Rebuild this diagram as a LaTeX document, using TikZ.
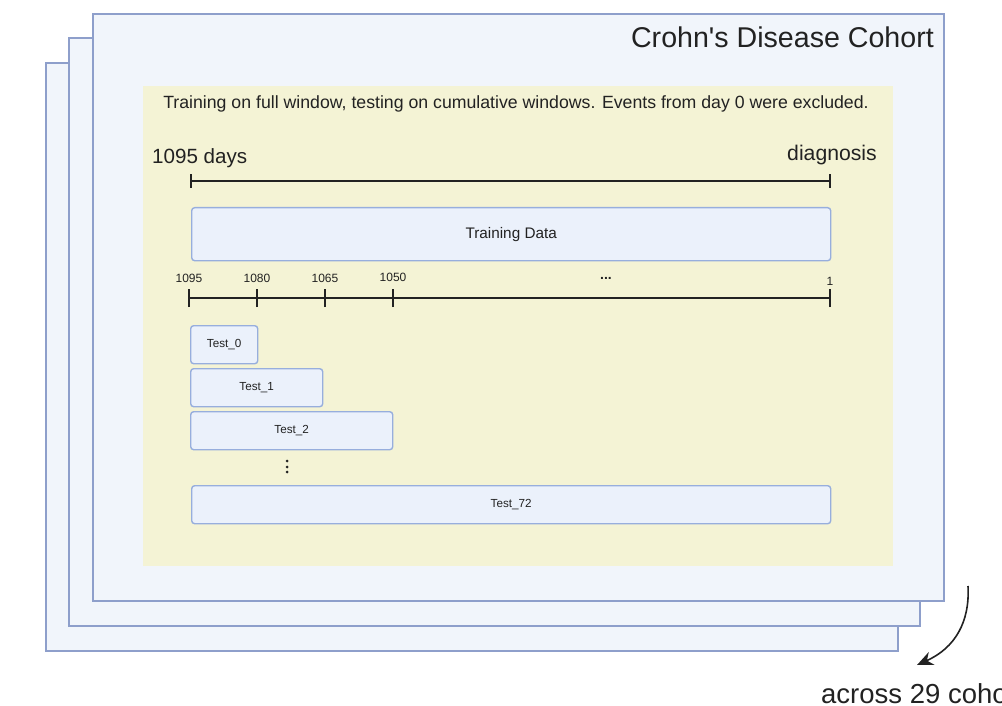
\documentclass[tikz,border=0pt]{standalone}
\usepackage{fontspec}
\setmainfont{Liberation Sans}
\usetikzlibrary{arrows.meta}
\definecolor{cardfill}{HTML}{F1F5FB}
\definecolor{cardline}{HTML}{8E9FCB}
\definecolor{panel}{HTML}{F4F3D5}
\definecolor{boxfill}{HTML}{EBF1FB}
\definecolor{boxline}{HTML}{97AEDD}
\definecolor{ink}{HTML}{222222}
\tikzset{
  card/.style={draw=cardline, fill=cardfill, line width=1.4pt},
  winbox/.style={draw=boxline, fill=boxfill, line width=1.4pt, rounded corners=3pt, inner sep=0pt, anchor=north west, text=ink},
  tline/.style={draw=ink, line width=1.5pt},
  tlabel/.style={text=ink, inner sep=0pt, font=\fontsize{12}{14}\selectfont},
  testtxt/.style={font=\fontsize{11.7}{13}\selectfont},
  dot/.style={fill=ink, draw=none},
}
\begin{document}
\begin{tikzpicture}[x=1pt,y=-1pt]
\useasboundingbox (0,0) rectangle (1002,706);
\clip (0,0) rectangle (1002,706);
% stacked cards
\draw[card] (46,63) rectangle (898,651);
\draw[card] (69,38) rectangle (920,626);
\draw[card] (93,14) rectangle (944,601);
\node[anchor=east, text=ink, inner sep=0pt, font=\fontsize{28.6}{31}\selectfont] (title) at (934,37) {Crohn\textquotesingle s Disease Cohort};
% panel
\fill[panel] (143,86) rectangle (893,566);
\node[text=ink, inner sep=0pt, font=\fontsize{17.7}{19}\selectfont] (cap) at (516,104) {Training on full window, testing on cumulative windows. Events from day 0 were excluded.};
% timeline 1
\node[anchor=west, text=ink, inner sep=0pt, font=\fontsize{20.6}{22}\selectfont] (days) at (152,158) {1095 days};
\node[anchor=east, text=ink, inner sep=0pt, font=\fontsize{21.2}{23}\selectfont] (diag) at (877,155) {diagnosis};
\coordinate (a1) at (191,181);
\coordinate (b1) at (830,181);
\draw[tline] (a1) -- (b1);
\draw[tline] ([yshift=-7pt]a1) -- ([yshift=7pt]a1);
\draw[tline] ([yshift=-7pt]b1) -- ([yshift=7pt]b1);
\node[winbox, minimum width=639pt, minimum height=53pt, font=\fontsize{15.3}{17}\selectfont] (train) at (191,207) {Training Data};
% timeline 2
\coordinate (t0) at (189,298);
\coordinate (t1) at (257,298);
\coordinate (t2) at (325,298);
\coordinate (t3) at (393,298);
\coordinate (tend) at (830,298);
\draw[tline] (t0) -- (tend);
\foreach \c in {t0,t1,t2,t3,tend} \draw[tline] ([yshift=-9pt]\c) -- ([yshift=9pt]\c);
\node[tlabel] (l0) at (189,278) {1095};
\node[tlabel] (l1) at (257,278) {1080};
\node[tlabel] (l2) at (325,278) {1065};
\node[tlabel] (l3) at (393,277) {1050};
\node[tlabel, font=\bfseries\fontsize{14}{16}\selectfont] (ldots) at (606,278) {...};
\node[tlabel] (lend) at (830,281) {1};
% tests
\node[winbox, minimum width=67pt, minimum height=38pt, testtxt] (test0) at (190,325) {Test\_0};
\node[winbox, minimum width=132pt, minimum height=38pt, testtxt] (test1) at (190,368) {Test\_1};
\node[winbox, minimum width=202pt, minimum height=38pt, testtxt] (test2) at (190,411) {Test\_2};
\foreach \yy in {461,467,472} \fill[dot] (287,\yy) circle (1.5pt);
\node[winbox, minimum width=639pt, minimum height=38pt, testtxt] (test72) at (191,485) {Test\_72};
% arrow and caption
\coordinate (arrS) at (968,586);
\coordinate (arrE) at (917,665);
\draw[draw=ink, line width=1.6pt, -{Stealth[length=16pt,width=14pt]}] (arrS) .. controls (970,622) and (955,648) .. (arrE);
\node[anchor=west, text=ink, inner sep=0pt, font=\fontsize{27.5}{30}\selectfont] (across) at (821,694) {across 29 cohorts};
\end{tikzpicture}
\end{document}
